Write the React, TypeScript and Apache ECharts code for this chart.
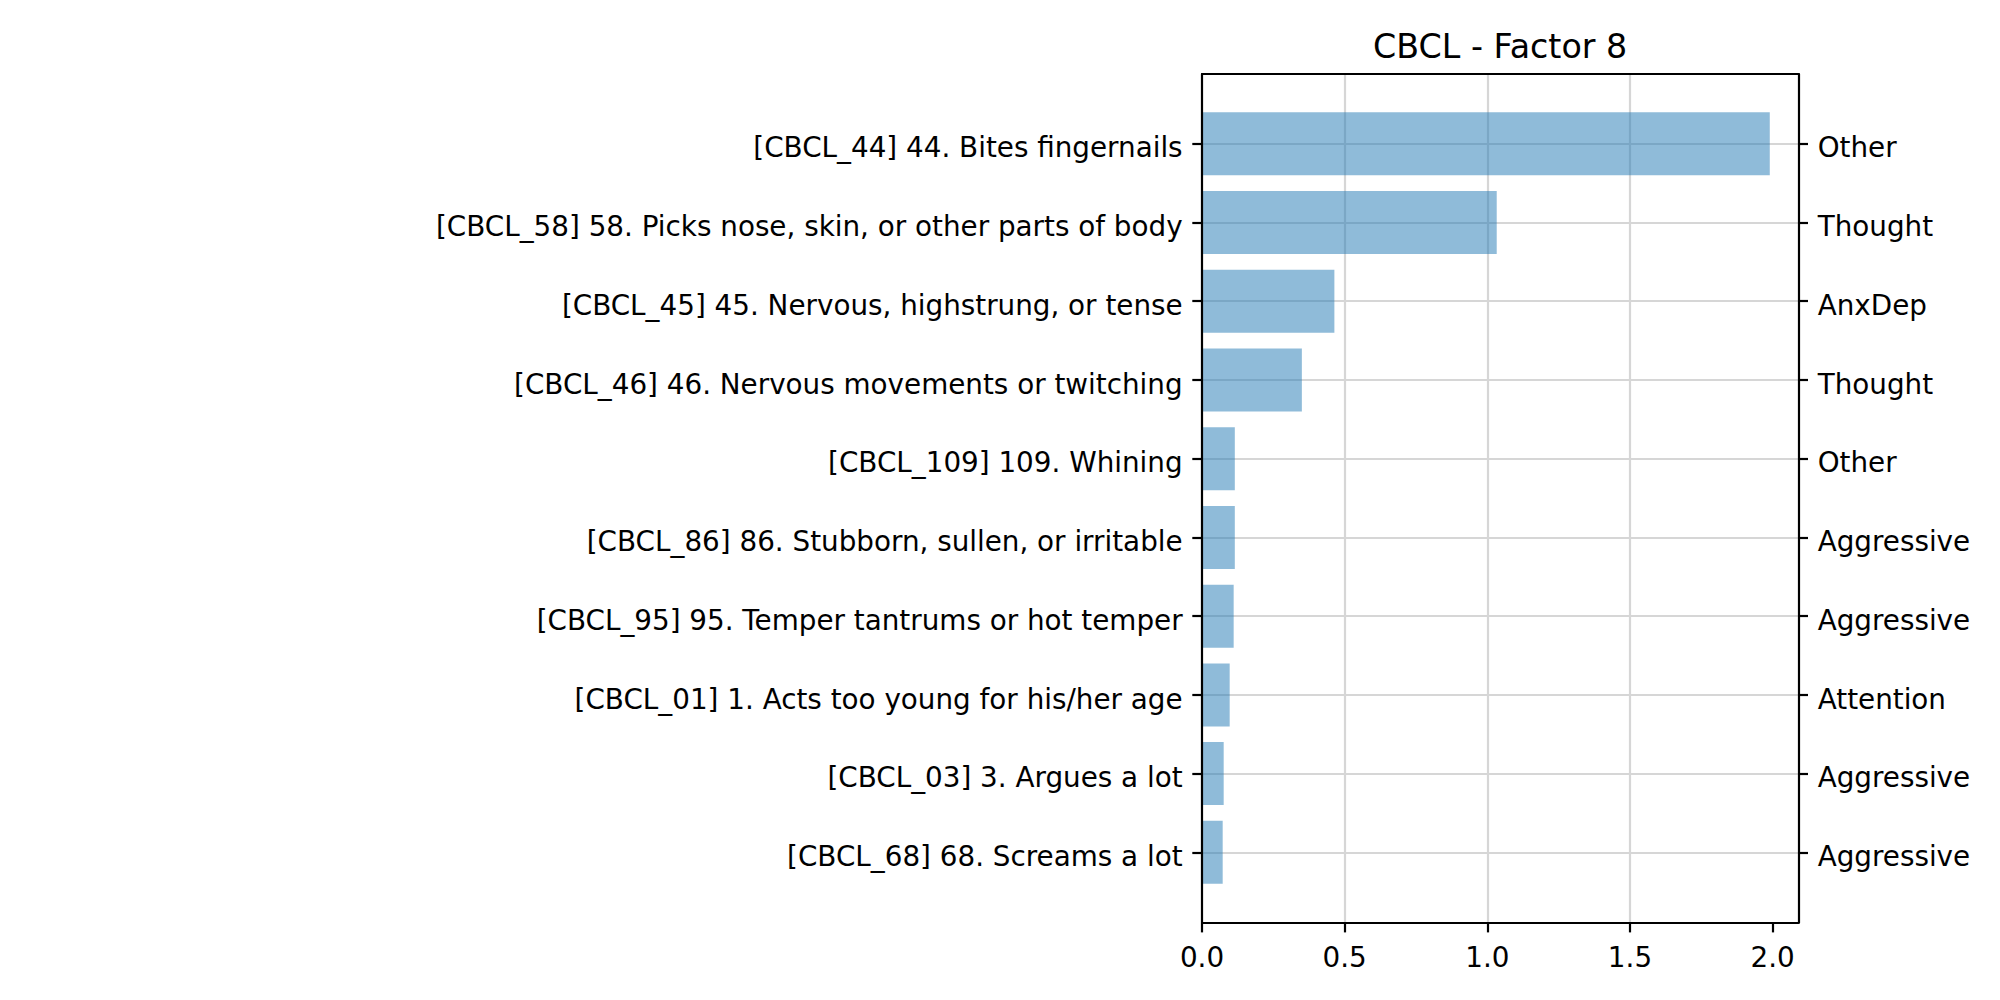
import React, { useEffect, useRef } from "react";
import * as echarts from "echarts";

const TITLE = "CBCL - Factor 8";
const items = [
  "[CBCL_44] 44. Bites fingernails",
  "[CBCL_58] 58. Picks nose, skin, or other parts of body",
  "[CBCL_45] 45. Nervous, highstrung, or tense",
  "[CBCL_46] 46. Nervous movements or twitching",
  "[CBCL_109] 109. Whining",
  "[CBCL_86] 86. Stubborn, sullen, or irritable",
  "[CBCL_95] 95. Temper tantrums or hot temper",
  "[CBCL_01] 1. Acts too young for his/her age",
  "[CBCL_03] 3. Argues a lot",
  "[CBCL_68] 68. Screams a lot",
];
const scales = [
  "Other",
  "Thought",
  "AnxDep",
  "Thought",
  "Other",
  "Aggressive",
  "Aggressive",
  "Attention",
  "Aggressive",
  "Aggressive",
];
const loadings = [1.99, 1.033, 0.464, 0.35, 0.115, 0.115, 0.111, 0.097, 0.076, 0.0725];
const xTicks = [0, 0.5, 1.0, 1.5, 2.0];
const X_MAX = 2.09;

const FONT = "DejaVu Sans";
const TICK_FS = 27.8;
const LW = 2.2;
const TICK_LEN = 9.7;
const GRID_COLOR = "#d6d6d6";

export default function App() {
  const ref = useRef<HTMLDivElement>(null);
  useEffect(() => {
    document.body.style.margin = "0";
    const chart = echarts.init(ref.current!, null, { renderer: "svg" });
    const L = 1202;
    const W = 596.3;
    const band = 78.74;
    const firstCenter = 143.7;
    const yLabel = {
      fontFamily: FONT,
      fontSize: TICK_FS,
      color: "#000",
      margin: 19.4,
      verticalAlign: "top",
      lineHeight: 8.5,
    };
    const option: any = {
      animation: false,
      backgroundColor: "#fff",
      graphic: [
        {
          type: "text",
          x: L + W / 2,
          y: 46,
          style: {
            text: TITLE,
            fontFamily: FONT,
            fontSize: 33.3,
            fill: "#000",
            textAlign: "center",
            textVerticalAlign: "middle",
          },
        },
      ],
      grid: [
        { left: L, top: 74, width: W, height: 848.7 },
        { left: L, top: firstCenter - band / 2, width: W, height: band * items.length },
      ],
      xAxis: [
        {
          gridIndex: 0,
          type: "value",
          min: 0,
          max: X_MAX,
          interval: 0.5,
          axisLine: { show: true, onZero: false, lineStyle: { color: "#000", width: LW } },
          axisTick: {
            show: true,
            length: TICK_LEN,
            lineStyle: { color: "#000", width: LW },
            customValues: xTicks,
          },
          axisLabel: {
            show: true,
            customValues: xTicks,
            formatter: (v: number) => v.toFixed(1),
            fontFamily: FONT,
            fontSize: TICK_FS,
            color: "#000",
            margin: 20.5,
          },
          splitLine: {
            show: true,
            showMinLine: false,
            showMaxLine: false,
            lineStyle: { color: GRID_COLOR, width: LW },
          },
          z: 0,
        },
        {
          gridIndex: 0,
          type: "value",
          position: "top",
          min: 0,
          max: X_MAX,
          axisLine: { show: true, onZero: false, lineStyle: { color: "#000", width: LW } },
          axisTick: { show: false },
          axisLabel: { show: false },
          splitLine: { show: false },
          z: 3,
        },
        {
          gridIndex: 1,
          type: "value",
          min: 0,
          max: X_MAX,
          show: false,
        },
      ],
      yAxis: [
        {
          gridIndex: 0,
          type: "value",
          min: 0,
          max: 1,
          axisLine: { show: true, onZero: false, lineStyle: { color: "#000", width: LW } },
          axisTick: { show: false },
          axisLabel: { show: false },
          splitLine: { show: false },
          z: 3,
        },
        {
          gridIndex: 0,
          type: "value",
          position: "right",
          min: 0,
          max: 1,
          axisLine: { show: true, onZero: false, lineStyle: { color: "#000", width: LW } },
          axisTick: { show: false },
          axisLabel: { show: false },
          splitLine: { show: false },
          z: 3,
        },
        {
          gridIndex: 1,
          type: "category",
          data: items,
          inverse: true,
          position: "left",
          axisLine: { show: false },
          axisTick: {
            show: true,
            alignWithLabel: true,
            length: TICK_LEN,
            lineStyle: { color: "#000", width: LW },
          },
          axisLabel: yLabel,
          splitLine: { show: false },
        },
        {
          gridIndex: 1,
          type: "category",
          data: scales,
          inverse: true,
          position: "right",
          axisLine: { show: false },
          axisTick: {
            show: true,
            alignWithLabel: true,
            length: TICK_LEN,
            lineStyle: { color: "#000", width: LW },
          },
          axisLabel: yLabel,
          splitLine: { show: false },
        },
      ],
      series: [
        {
          type: "bar",
          xAxisIndex: 2,
          yAxisIndex: 2,
          data: loadings,
          barCategoryGap: "20%",
          itemStyle: { color: "rgba(31,119,180,0.5)" },
          z: 2,
          markLine: {
            silent: true,
            symbol: "none",
            z: 1,
            label: { show: false },
            lineStyle: { color: GRID_COLOR, width: LW, type: "solid" },
            data: items.map((c) => ({ yAxis: c })),
          },
        },
      ],
    };
    chart.setOption(option);
    return () => chart.dispose();
  }, []);
  return <div ref={ref} style={{ width: 2000, height: 1000 }} />;
}
